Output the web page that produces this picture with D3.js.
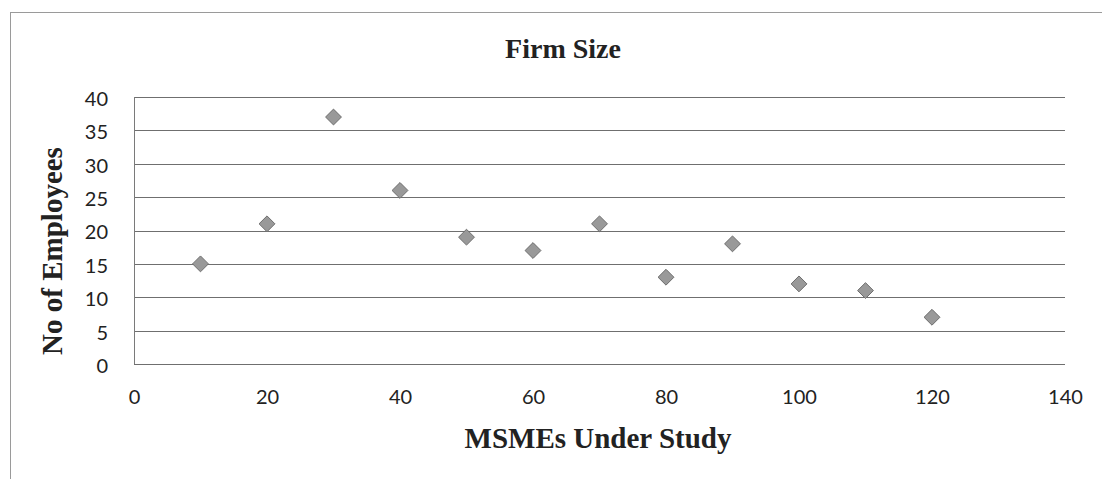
<!DOCTYPE html>
<html>
<head>
<meta charset="utf-8">
<script src="https://cdn.jsdelivr.net/npm/d3@7"></script>
<style>
  html, body { margin: 0; padding: 0; background: #ffffff; }
  svg { display: block; }
</style>
</head>
<body>
<svg id="chart" width="1102" height="479"></svg>
<script>
// Firm size of MSMEs under study
const firmIds   = [10, 20, 30, 40, 50, 60, 70, 80, 90, 100, 110, 120];
const employees = [15, 21, 37, 26, 19, 17, 21, 13, 18, 12, 11, 7];
const xTicks = [0, 20, 40, 60, 80, 100, 120, 140];
const yTicks = [0, 5, 10, 15, 20, 25, 30, 35, 40];

const svg = d3.select("#chart");
const W = 1102, H = 479;
const plot = { left: 134, right: 1065, top: 97, bottom: 364 };

// outer chart frame
svg.append("rect")
  .attr("x", 10.5).attr("y", 12.5)
  .attr("width", W + 20).attr("height", H + 20)
  .attr("fill", "none").attr("stroke", "#9a9a9a").attr("stroke-width", 1);

const x = d3.scaleLinear().domain([0, 140]).range([plot.left, plot.right]);
const y = d3.scaleLinear().domain([0, 40]).range([plot.bottom, plot.top]);

// horizontal gridlines
svg.append("g")
  .selectAll("line")
  .data(yTicks)
  .join("line")
  .attr("x1", plot.left).attr("x2", plot.right)
  .attr("y1", d => Math.round(y(d)) + 0.5).attr("y2", d => Math.round(y(d)) + 0.5)
  .attr("stroke", "#6f6f6f").attr("stroke-width", 1.2);

// vertical axis line
svg.append("line")
  .attr("x1", plot.left + 0.5).attr("x2", plot.left + 0.5)
  .attr("y1", y(40)).attr("y2", y(0))
  .attr("stroke", "#7a7a7a").attr("stroke-width", 1);

// y axis labels
const yAxis = d3.axisLeft(y).tickValues(yTicks).tickSize(0).tickPadding(26);
const gy = svg.append("g").attr("transform", `translate(${plot.left},0)`).call(yAxis);
gy.select(".domain").remove();
gy.selectAll("text")
  .attr("dy", "0.42em")
  .attr("font-family", "Lato, 'Open Sans', sans-serif")
  .attr("font-size", 20).attr("fill", "#222");

// x axis labels
const xAxis = d3.axisBottom(x).tickValues(xTicks).tickSize(0).tickPadding(26);
const gx = svg.append("g").attr("transform", `translate(0,${plot.bottom})`).call(xAxis);
gx.select(".domain").remove();
gx.selectAll("text")
  .attr("font-family", "Lato, 'Open Sans', sans-serif")
  .attr("font-size", 20).attr("fill", "#222");

// diamond markers
const diamond = d3.symbol().type(d3.symbolDiamond2).size(160);
svg.append("g")
  .selectAll("path")
  .data(firmIds.map((id, i) => ({ id, v: employees[i] })))
  .join("path")
  .attr("d", diamond)
  .attr("transform", d => `translate(${x(d.id)},${y(d.v)})`)
  .attr("fill", "#999999")
  .attr("stroke", "#6e6e6e")
  .attr("stroke-width", 1);

// titles
svg.append("text")
  .attr("x", 563).attr("y", 58)
  .attr("text-anchor", "middle")
  .attr("font-family", "'Liberation Serif', 'DejaVu Serif', serif")
  .attr("font-weight", "bold").attr("font-size", 28).attr("fill", "#222")
  .text("Firm Size");

svg.append("text")
  .attr("x", 598).attr("y", 448)
  .attr("text-anchor", "middle")
  .attr("font-family", "'Liberation Serif', 'DejaVu Serif', serif")
  .attr("font-weight", "bold").attr("font-size", 29).attr("fill", "#222")
  .text("MSMEs Under Study");

svg.append("text")
  .attr("transform", "translate(62,251) rotate(-90)")
  .attr("text-anchor", "middle")
  .attr("font-family", "'Liberation Serif', 'DejaVu Serif', serif")
  .attr("font-weight", "bold").attr("font-size", 29).attr("fill", "#222")
  .text("No of Employees");
</script>
</body>
</html>
